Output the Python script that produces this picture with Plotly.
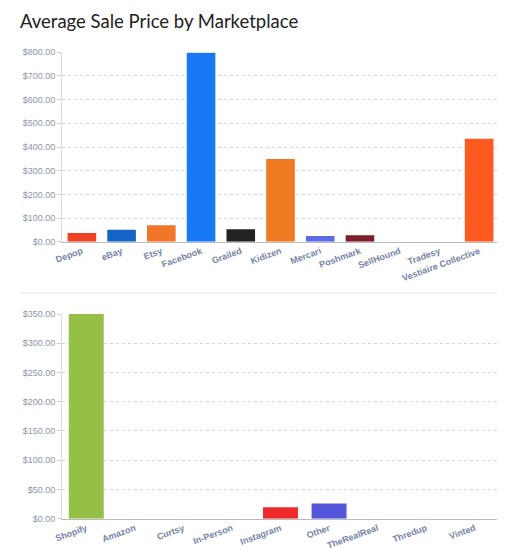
import plotly.graph_objects as go
from plotly.subplots import make_subplots

top_categories = ["Depop", "eBay", "Etsy", "Facebook", "Grailed", "Kidizen",
                  "Mercari", "Poshmark", "SellHound", "Tradesy", "Vestiaire Collective"]
top_values = [37, 51, 70, 798, 53, 349, 24, 27, 0, 0, 435]
top_colors = ["#EE4423", "#1565C8", "#F1762A", "#1877F2", "#222222", "#F07A22",
              "#5B6BE6", "#7D1F2A", "#999999", "#999999", "#FF5A1F"]

bottom_categories = ["Shopify", "Amazon", "Curtsy", "In-Person", "Instagram",
                     "Other", "TheRealReal", "Thredup", "Vinted"]
bottom_values = [350, 0, 0, 0, 19.5, 26, 0, 0, 0]
bottom_colors = ["#95BF47", "#FF9900", "#999999", "#999999", "#EE2A2A",
                 "#5656DC", "#999999", "#999999", "#999999"]

top_ticks = [0, 100, 200, 300, 400, 500, 600, 700, 800]
bottom_ticks = [0, 50, 100, 150, 200, 250, 300, 350]

# page body has an 8px margin, so the figure is sized/positioned to compensate
W, H = 497, 540

fig = make_subplots(rows=2, cols=1)
fig.add_trace(go.Bar(x=top_categories, y=top_values, marker_color=top_colors,
                     marker_line_width=0, showlegend=False), row=1, col=1)
fig.add_trace(go.Bar(x=bottom_categories, y=bottom_values, marker_color=bottom_colors,
                     marker_line_width=0, showlegend=False), row=2, col=1)

tick_font = dict(family="Liberation Sans, Arial", size=9, color="#8A96AA")
xtick_font = dict(family="Liberation Sans, Arial", size=9, color="#7585A5", weight="bold")

common_x = dict(tickangle=-20, tickfont=xtick_font, automargin=False,
                showline=True, linecolor="#BBBBBB", linewidth=1, showgrid=False,
                ticks="")
common_y = dict(tickformat="$,.2f", tickfont=tick_font, showgrid=True, automargin=False,
                gridcolor="#D6D6D6", griddash="dot", gridwidth=1,
                showline=True, linecolor="#DDDDDD", ticks="outside", ticklen=4,
                tickcolor="#CCCCCC", zeroline=False)

xdom = [54 / W, 491 / W]

fig.update_layout(
    width=W, height=H,
    margin=dict(l=0, r=0, t=0, b=0, autoexpand=False),
    paper_bgcolor="white", plot_bgcolor="white",
    bargap=0.28,
    title=dict(text="Average Sale Price by Marketplace", x=12 / W, xanchor="left",
               xref="container", y=1 - 14 / H, yanchor="middle",
               font=dict(family="Lato, Open Sans, sans-serif", size=18.5, color="#222222")),
    xaxis=dict(domain=xdom, anchor="y", **common_x),
    yaxis=dict(domain=[1 - 233.7 / H, 1 - 44.3 / H], anchor="x", range=[0, 800],
               tickvals=top_ticks, **common_y),
    xaxis2=dict(domain=xdom, anchor="y2", **common_x),
    yaxis2=dict(domain=[1 - 510.7 / H, 1 - 306 / H], anchor="x2", range=[0, 350],
                tickvals=bottom_ticks, **common_y),
)

fig.add_shape(type="line", xref="paper", yref="paper", x0=12 / W, x1=0.995,
              y0=1 - 285 / H, y1=1 - 285 / H,
              line=dict(color="#EEEEEE", width=1.5))

fig.write_html("out.html")
